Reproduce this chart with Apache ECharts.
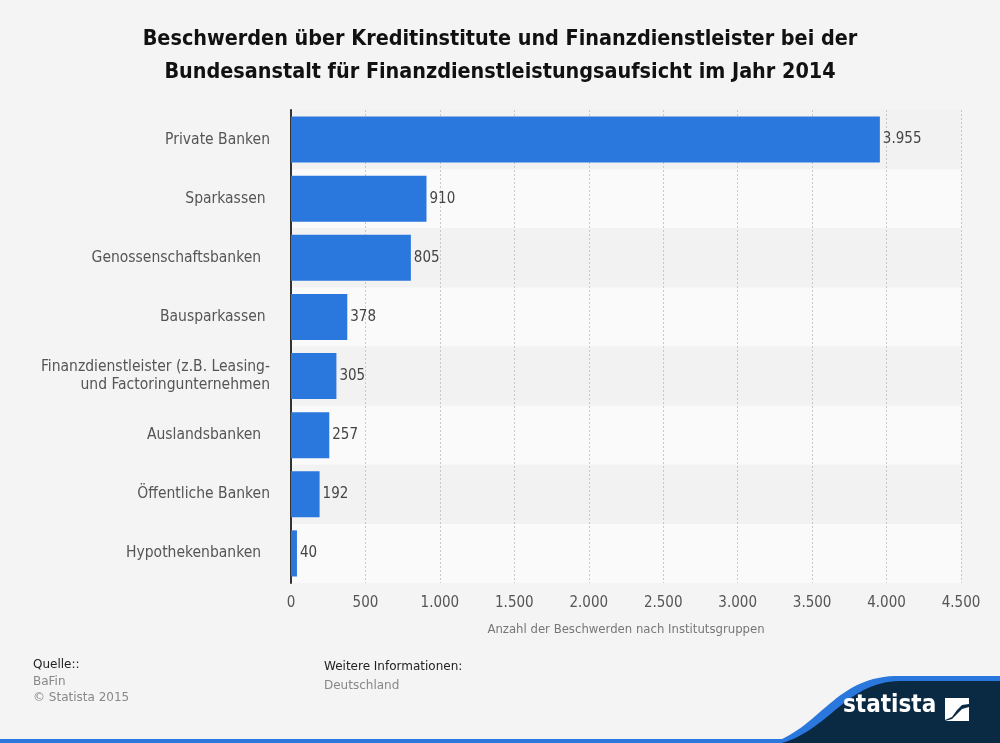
<!DOCTYPE html>
<html><head><meta charset="utf-8">
<script src="https://cdn.jsdelivr.net/npm/echarts@6/dist/echarts.min.js"></script>
<style>html,body{margin:0;padding:0;background:#f4f4f4;}#c{width:1000px;height:743px;}</style>
</head><body><div id="c"></div>
<script>
const categories = ['Private Banken','Sparkassen ','Genossenschaftsbanken  ','Bausparkassen ','Finanzdienstleister (z.B. Leasing-\nund Factoringunternehmen','Auslandsbanken  ','Öffentliche Banken','Hypothekenbanken  '];
const values = [3955, 910, 805, 378, 305, 257, 192, 40];
const xTicks = [0, 500, 1000, 1500, 2000, 2500, 3000, 3500, 4000, 4500];

const fmt = v => String(v).replace(/\B(?=(\d{3})+(?!\d))/g, '.');
function bez(p0,p1,p2,p3,n){const out=[];for(let i=0;i<=n;i++){const t=i/n,u=1-t;out.push([u*u*u*p0[0]+3*u*u*t*p1[0]+3*u*t*t*p2[0]+t*t*t*p3[0],u*u*u*p0[1]+3*u*u*t*p1[1]+3*u*t*t*p2[1]+t*t*t*p3[1]]);}return out;}
const waveBlue = bez([772,743],[820,727],[835,678],[895,676],30).concat([[1000,676],[1000,743]]);
const waveDark = bez([782,743],[830,729],[846,682],[900,681],30).concat([[1000,681],[1000,743]]);
const chart = echarts.init(document.getElementById('c'), null, {renderer:'canvas'});
const F = '"DejaVu Sans Condensed", "DejaVu Sans"';
chart.setOption({
  backgroundColor:'#f4f4f4',
  animation:false,
  title:{
    text:'Beschwerden über Kreditinstitute und Finanzdienstleister bei der\nBundesanstalt für Finanzdienstleistungsaufsicht im Jahr 2014',
    left:'center', top:18,
    textStyle:{fontFamily:F, fontWeight:'bold', fontSize:21.4, color:'#111', lineHeight:33}
  },
  grid:{left:291, right:39, top:110, bottom:160},
  xAxis:{
    type:'value', min:0, max:4500, interval:500,
    name:'Anzahl der Beschwerden nach Institutsgruppen', nameLocation:'middle', nameGap:40,
    nameTextStyle:{fontFamily:F, fontSize:13, color:'#777'},
    axisLine:{show:false}, axisTick:{show:false},
    axisLabel:{fontFamily:F, fontSize:15, color:'#555', margin:13, formatter:v=>fmt(v)},
    splitLine:{show:true, lineStyle:{color:'#c8c8c8', type:[2,2], width:1}}
  },
  yAxis:{
    type:'category', data:categories, inverse:true,
    axisLine:{show:true, lineStyle:{color:'#333', width:2}},
    axisTick:{show:false},
    axisLabel:{fontFamily:F, fontSize:15.5, color:'#555', margin:21, lineHeight:18, align:'right'},
    splitArea:{show:true, areaStyle:{color:['#f2f2f2','#fafafa']}}
  },
  series:[{
    type:'bar', data:values, barCategoryGap:'22%',
    itemStyle:{color:'#2a77dd'},
    label:{show:true, position:'right', distance:3, fontFamily:F, fontSize:15, color:'#444', formatter:p=>fmt(p.value)}
  }],
  graphic:[
    {type:'text', x:33, y:659, style:{text:'Quelle::', font:'12px "DejaVu Sans"', fill:'#222'}},
    {type:'text', x:33, y:676, style:{text:'BaFin', font:'12px "DejaVu Sans"', fill:'#888'}},
    {type:'text', x:33, y:692, style:{text:'© Statista 2015', font:'12px "DejaVu Sans"', fill:'#888'}},
    {type:'text', x:324, y:661, style:{text:'Weitere Informationen:', font:'12px "DejaVu Sans"', fill:'#222'}},
    {type:'text', x:324, y:680, style:{text:'Deutschland', font:'12px "DejaVu Sans"', fill:'#888'}},
    {type:'rect', shape:{x:0, y:739, width:1000, height:4}, style:{fill:'#2a77dd'}},
    {type:'polygon', shape:{points:waveBlue}, style:{fill:'#2a77dd'}},
    {type:'polygon', shape:{points:waveDark}, style:{fill:'#0a2a44'}},
    {type:'text', x:843, y:694, style:{text:'statista', font:'bold 24px "DejaVu Sans Condensed", "DejaVu Sans"', fill:'#fff'}},
    {type:'polygon', shape:{points:[[945,698],[969,698],[969,704],[962,705],[957,710],[952,717],[945,720]]}, style:{fill:'#fff'}},
    {type:'polygon', shape:{points:[[969,707],[969,721],[945,721],[952,719],[957,714],[962,709]]}, style:{fill:'#fff'}}
  ]
});
</script></body></html>
